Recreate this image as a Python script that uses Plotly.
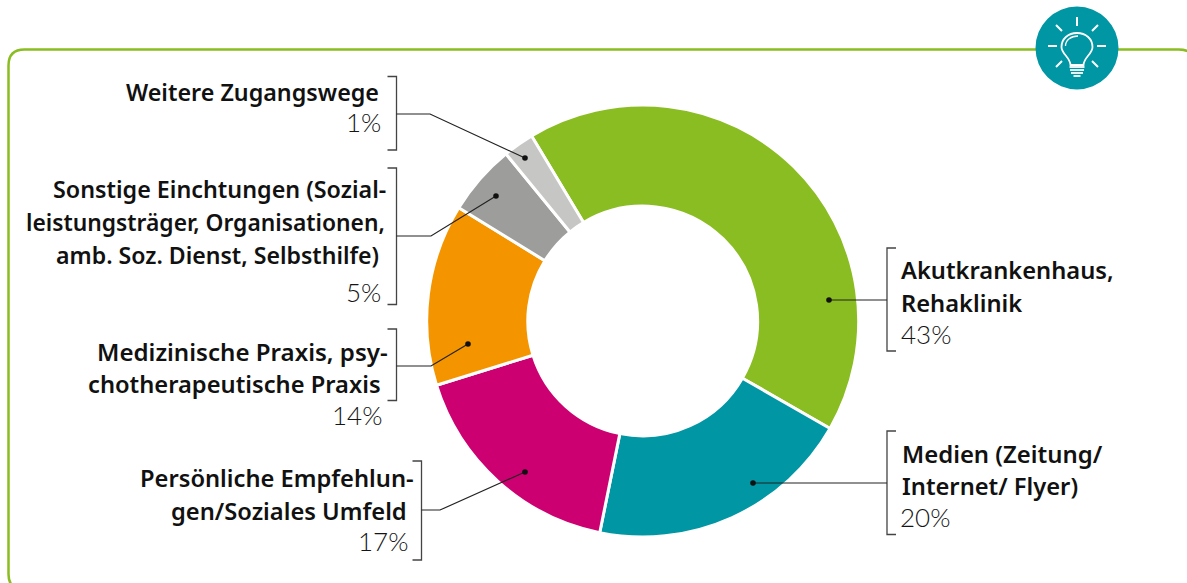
import plotly.graph_objects as go

W, H = 1187, 583
categories = ["Akutkrankenhaus, Rehaklinik", "Medien (Zeitung/ Internet/ Flyer)",
              "Persönliche Empfehlungen/Soziales Umfeld", "Medizinische Praxis, psychotherapeutische Praxis",
              "Sonstige Einchtungen", "Weitere Zugangswege"]
drawn_shares = [41.9, 19.9, 17.0, 13.6, 5.3, 2.3]
colors = ["#8abd21", "#0096a4", "#cc0070", "#f49500", "#9d9e9c", "#c6c7c5"]

def X(p): return p / W
def Y(p): return 1 - p / H

CX, CY, R = 642.7, 321, 216
fig = go.Figure(go.Pie(
    labels=categories, values=drawn_shares, sort=False, direction="clockwise", rotation=-31,
    hole=0.532, textinfo="none", hoverinfo="label+percent", showlegend=False,
    marker=dict(colors=colors, line=dict(color="white", width=3)),
    domain=dict(x=[X(CX - R), X(CX + R)], y=[Y(CY + R), Y(CY - R)]),
))

shapes = []
def line(pts, color="#222222", width=1.3):
    d = "M " + " L ".join(f"{X(x):.5f},{Y(y):.5f}" for x, y in pts)
    shapes.append(dict(type="path", path=d, xref="paper", yref="paper", line=dict(color=color, width=width)))

def circle(cx, cy, r, fill, lw=0, lc=None):
    shapes.append(dict(type="circle", xref="paper", yref="paper", x0=X(cx - r), x1=X(cx + r), y0=Y(cy + r), y1=Y(cy - r),
                       fillcolor=fill, line=dict(width=lw, color=lc or fill)))

# rounded green frame, running off the bottom and right of the page
fr = 16
L, T, B, Rt = 8.5, 49.5, 590, 1195
fp = (f"M {X(L+fr)},{Y(B)} Q {X(L)},{Y(B)} {X(L)},{Y(B-fr)} L {X(L)},{Y(T+fr)} Q {X(L)},{Y(T)} {X(L+fr)},{Y(T)} "
      f"L {X(Rt-fr)},{Y(T)} Q {X(Rt)},{Y(T)} {X(Rt)},{Y(T+fr)}")
shapes.append(dict(type="path", path=fp, xref="paper", yref="paper", line=dict(color="#8abd21", width=2.5)))

# brackets: (x_spine, y_top, y_bottom, tick direction)
for xs, y0, y1, d in [(396.5, 76.5, 150, -9), (396.5, 168, 304.5, -9), (396.5, 329, 400.5, -9),
                      (421.5, 461, 560, -9), (887, 248, 351, 9), (887, 431, 534.5, 9)]:
    line([(xs + d, y0), (xs, y0), (xs, y1), (xs + d, y1)], "#444444", 1.3)

# leader lines
for pts in [[(396.5, 114), (430, 114), (525, 158)],
            [(396.5, 236), (431, 236), (496, 196)],
            [(396.5, 366), (431, 366), (468, 344)],
            [(421.5, 510), (440, 510), (525, 472)],
            [(887, 300), (829, 300)],
            [(887, 483), (753, 483)]]:
    line(pts, "#222222", 1.2)
    circle(pts[-1][0], pts[-1][1], 2.8, "#111111")

# lightbulb icon
IX, IY = 1077, 48
circle(IX, IY, 41.5, "#0096a4")
ray = "#ffffff"
for a, b in [((0, -31), (0, -22)), ((-21, -23), (-15, -17)), ((21, -23), (15, -17)),
             ((-29, -2), (-20, -2)), ((29, -2), (20, -2)), ((-21, 19), (-15, 13)), ((21, 19), (15, 13))]:
    line([(IX + a[0], IY + a[1]), (IX + b[0], IY + b[1])], ray, 2)
bx = lambda dx: X(IX + dx)
by = lambda dy: Y(IY + dy)
bulb = (f"M {bx(-6.5)},{by(17)} C {bx(-7)},{by(9)} {bx(-15.5)},{by(6)} {bx(-15.5)},{by(-1)} "
        f"C {bx(-15.5)},{by(-9)} {bx(-9)},{by(-15)} {bx(0)},{by(-15)} "
        f"C {bx(9)},{by(-15)} {bx(15.5)},{by(-9)} {bx(15.5)},{by(-1)} "
        f"C {bx(15.5)},{by(6)} {bx(7)},{by(9)} {bx(6.5)},{by(17)} Z")
shapes.append(dict(type="path", path=bulb, xref="paper", yref="paper", line=dict(color="white", width=1.8)))
glow = f"M {bx(-11.5)},{by(-2)} C {bx(-11.5)},{by(-8)} {bx(-6)},{by(-12)} {bx(1)},{by(-12)}"
shapes.append(dict(type="path", path=glow, xref="paper", yref="paper", line=dict(color="white", width=1.3)))
line([(IX - 7.5, IY + 19), (IX + 7.5, IY + 19)], "white", 1.8)
line([(IX - 7, IY + 22), (IX + 7, IY + 22)], "white", 1.8)
line([(IX - 6, IY + 25), (IX + 6, IY + 25)], "white", 1.8)
line([(IX - 3.5, IY + 28), (IX + 3.5, IY + 28)], "white", 1.8)

annotations = []
def text(x, y, s, anchor="right", bold=True, size=23.7):
    annotations.append(dict(
        x=X(x), y=Y(y), xref="paper", yref="paper", text=s, showarrow=False, xanchor=anchor, yanchor="middle",
        align=anchor, xshift=2 if anchor == "right" else -2, yshift=1 if bold else 2,
        font=dict(family="Noto Sans" if bold else "Lato", size=size if bold else 26,
                  color="#111111" if bold else "#151515", weight=600 if bold else 300)))

text(379, 93, "Weitere Zugangswege", size=23.3)
text(381, 124, "1%", bold=False)
text(386, 190, "Sonstige Einchtungen (Sozial-", size=23.3)
text(385, 223, "leistungsträger, Organisationen,", size=22.8)
text(379, 256, "amb. Soz. Dienst, Selbsthilfe)", size=23.1)
text(381, 294, "5%", bold=False)
text(388, 352, "Medizinische Praxis, psy-", size=24.1)
text(381, 385, "chotherapeutische Praxis")
text(382, 417, "14%", bold=False)
text(414, 479, "Persönliche Empfehlun-")
text(407, 512, "gen/Soziales Umfeld")
text(408, 543, "17%", bold=False)
text(901, 271, "Akutkrankenhaus,", "left")
text(901, 304, "Rehaklinik", "left")
text(901, 336, "43%", "left", False)
text(902, 454, "Medien (Zeitung/", "left", size=23.9)
text(902, 487, "Internet/ Flyer)", "left")
text(900, 519, "20%", "left", False)

fig.update_layout(width=W, height=H, margin=dict(l=0, r=0, t=0, b=0), paper_bgcolor="white",
                  shapes=shapes, annotations=annotations, autosize=False)
fig.write_html("out.html", config={"displayModeBar": False},
               post_script="document.body.style.margin='0';document.body.style.overflow='hidden';")
